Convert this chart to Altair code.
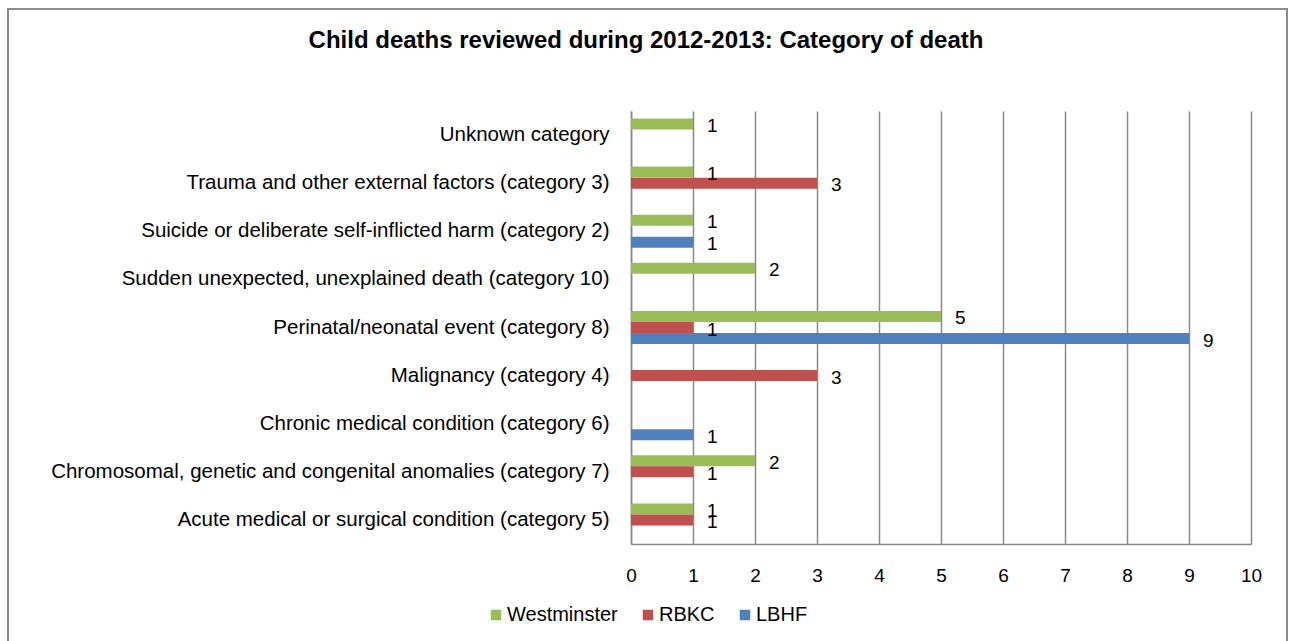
import altair as alt
import pandas as pd

categories = [
    "Unknown category",
    "Trauma and other external factors (category 3)",
    "Suicide or deliberate self-inflicted harm (category 2)",
    "Sudden unexpected, unexplained death (category 10)",
    "Perinatal/neonatal event (category 8)",
    "Malignancy (category 4)",
    "Chronic medical condition (category 6)",
    "Chromosomal, genetic and congenital anomalies (category 7)",
    "Acute medical or surgical condition (category 5)",
]
series = ["Westminster", "RBKC", "LBHF"]
westminster = [1, 1, 1, 2, 5, None, None, 2, 1]
rbkc = [None, 3, None, None, 1, 3, None, 1, 1]
lbhf = [None, None, 1, None, 9, None, 1, None, None]
colors = ["#9BBB59", "#C0504D", "#4F81BD"]
x_ticks = list(range(0, 11))

rows = []
for name, vals in zip(series, [westminster, rbkc, lbhf]):
    for cat, v in zip(categories, vals):
        if v is not None:
            rows.append({"category": cat, "series": name, "value": v})
df = pd.DataFrame(rows)

FONT = "Liberation Sans"

base = alt.Chart(df).encode(
    y=alt.Y("category:N", sort=categories,
            scale=alt.Scale(paddingInner=0.31, paddingOuter=0.155),
            axis=alt.Axis(title=None, labelFont=FONT, labelFontSize=20.5,
                          labelColor="black", labelPadding=22, ticks=False,
                          labelLimit=800, domainColor="#8a8a8a", domainWidth=1.5,
                          grid=False)),
    yOffset=alt.YOffset("series:N", sort=series,
                        scale=alt.Scale(domain=series, paddingInner=0, paddingOuter=0)),
)

bars = base.mark_bar(size=11).encode(
    x=alt.X("value:Q", scale=alt.Scale(domain=[0, 10], nice=False),
            axis=alt.Axis(title=None, values=x_ticks, format="d", labelFont=FONT,
                          labelFontSize=19, labelColor="black", labelPadding=22,
                          ticks=False, grid=True, gridColor="#8a8a8a", gridWidth=1.5,
                          domainColor="#8a8a8a", domainWidth=1.5, labelFlush=False)),
    color=alt.Color("series:N", sort=series,
                    scale=alt.Scale(domain=series, range=colors),
                    legend=alt.Legend(title=None, orient="none", direction="horizontal",
                                      legendX=-145, legendY=494, symbolType="square",
                                      symbolSize=110, symbolStrokeWidth=0,
                                      labelFont=FONT, labelFontSize=20,
                                      labelColor="black", labelOffset=1,
                                      columnPadding=20)),
)

labels = base.mark_text(align="left", baseline="middle", dx=14, dy=2,
                        font=FONT, fontSize=19, color="black").encode(
    x=alt.X("value:Q"),
    text=alt.Text("value:Q"),
)

frame = alt.Chart(pd.DataFrame({"k": [0]})).mark_rect(
    fill=None, stroke="#8c8c8c", strokeWidth=2
).encode(
    x=alt.value(-623), x2=alt.value(656), y=alt.value(-102), y2=alt.value(560)
)

chart = alt.layer(frame, bars, labels).properties(
    width=620, height=433,
    autosize="none",
    padding={"left": 631, "top": 111, "right": 43, "bottom": 97},
    title=alt.TitleParams(
        "Child deaths reviewed during 2012-2013: Category of death",
        font=FONT, fontSize=24, fontWeight="bold", color="black",
        anchor="middle", frame="group", dx=-295, offset=0, dy=45,
    ),
).configure_view(stroke=None)

chart.save("out.html", embed_options={"renderer": "svg", "actions": False})
